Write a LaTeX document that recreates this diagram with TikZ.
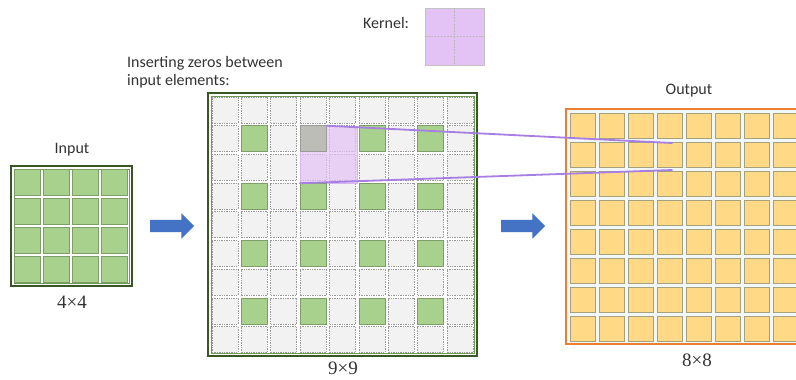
\documentclass[tikz,border=0pt]{standalone}
\usepackage{fontspec}
\setmainfont{Carlito}
\newfontfamily\numfont{Liberation Serif}
\usetikzlibrary{shapes.arrows}
\definecolor{txt}{HTML}{333333}
\definecolor{dkgreen}{HTML}{385723}
\definecolor{midgreen}{HTML}{6E9A55}
\definecolor{cellgreen}{HTML}{A9D18E}
\definecolor{cellgreenb}{HTML}{7E9E68}
\definecolor{zerofill}{HTML}{F2F2F2}
\definecolor{zerob}{HTML}{9A9A9A}
\definecolor{graycell}{HTML}{BDBDB8}
\definecolor{pinkk}{HTML}{E3C2F6}
\definecolor{purpleline}{HTML}{A77FE2}
\definecolor{orangeb}{HTML}{ED7D31}
\definecolor{yellowcell}{HTML}{FFD986}
\definecolor{yellowb}{HTML}{A3A27C}
\definecolor{arrowblue}{HTML}{4472C4}
\definecolor{gapblue}{HTML}{F1F7FA}
\tikzset{
  cellbase/.style={minimum width=25.5bp, minimum height=25.5bp, inner sep=0pt, outer sep=0pt},
  incell/.style={cellbase, fill=cellgreen, draw=cellgreenb, line width=0.7bp},
  zerocell/.style={cellbase, minimum width=26bp, minimum height=26bp, fill=zerofill, draw=zerob, line width=0.8bp, dash pattern=on 1.4bp off 1bp},
  valcell/.style={cellbase, minimum width=26bp, minimum height=26bp, fill=cellgreen, draw=cellgreenb, line width=0.8bp},
  grycell/.style={cellbase, minimum width=26bp, minimum height=26bp, fill=graycell, draw=zerob, line width=0.8bp},
  outcell/.style={cellbase, fill=yellowcell, draw=yellowb, line width=0.8bp},
  label/.style={text=txt, inner sep=0pt},
  numlabel/.style={text=txt, inner sep=0pt, font=\numfont\fontsize{19bp}{21bp}\selectfont},
  gridbox/.style={draw=dkgreen, line width=2.4bp, fill=white, inner sep=0pt},
  innerline/.style={draw=midgreen, line width=0.6bp, inner sep=0pt},
  bluearrow/.style={single arrow, fill=arrowblue, draw=none, minimum height=44bp, minimum width=25bp,
    inner xsep=0pt, inner ysep=6bp, single arrow head extend=6.5bp, text height=0pt, text depth=0pt},
  kline/.style={draw=purpleline, line width=1.8bp, line cap=round}
}
\begin{document}
\begin{tikzpicture}[x=1bp, y=-1bp, font=\fontsize{16bp}{17.5bp}\selectfont]
\useasboundingbox[fill=white] (0,0) rectangle (796,379);

% ---------- Input 4x4 ----------
\node[gridbox, minimum width=121bp, minimum height=120bp] (inbox) at (71.5,226) {};
\node[innerline, minimum width=115bp, minimum height=114bp] (ininner) at (71.5,226) {};
\foreach \i in {1,...,4}{\foreach \j in {1,...,4}{
  \node[incell] (in-\i-\j) at ({27.5+29*(\j-1)},{182.5+29*(\i-1)}) {};
}}
\node[label] (inlabel) at (72,150) {Input};
\node[numlabel] (insize) at (72,302) {4×4};

% ---------- arrow 1 ----------
\node[bluearrow] (arr1) at (169,226) {};

% ---------- 9x9 with inserted zeros ----------
\node[gridbox, minimum width=269bp, minimum height=263bp] (zbox) at (342.5,224.5) {};
\node[innerline, minimum width=263bp, minimum height=257bp] (zinner) at (342.5,224.5) {};
\foreach \i in {1,...,9}{\foreach \j in {1,...,9}{
  \node[zerocell] (z-\i-\j) at ({225+29.4*(\j-1)},{110+28.7*(\i-1)}) {};
}}
% kernel overlay
\node[fill=pinkk, fill opacity=0.7, draw=pinkk!80!purpleline, line width=0.5bp, minimum width=57bp, minimum height=57bp,
  inner sep=0pt] (overlay) at (328.5,154.5) {};
% gray (current input) cell
\node[grycell] (g-2-4) at ({225+29.4*3},{110+28.7*1}) {};
% green input-value cells
\foreach \i in {2,4,6,8}{\foreach \j in {2,4,6,8}{
  \ifnum\i=2 \ifnum\j=4 \else
    \node[valcell] (v-\i-\j) at ({225+29.4*(\j-1)},{110+28.7*(\i-1)}) {};
  \fi \else
    \node[valcell] (v-\i-\j) at ({225+29.4*(\j-1)},{110+28.7*(\i-1)}) {};
  \fi
}}
\node[label, align=left, anchor=west] (zlabel) at (127,72) {Inserting zeros between\\input elements:};
\node[numlabel] (zsize) at (343,368) {9×9};

% ---------- kernel ----------
\node[label] (klabel) at (386,23) {Kernel:};
\node[fill=pinkk, draw=zerob!60, line width=0.8bp, minimum width=59bp, minimum height=57bp, inner sep=0pt] (kernel) at (454.5,36.5) {};
\draw[draw=zerob!70, line width=0.6bp, dash pattern=on 2bp off 1.2bp] (kernel.north) -- (kernel.south);
\draw[draw=zerob!70, line width=0.6bp, dash pattern=on 2bp off 1.2bp] (kernel.west) -- (kernel.east);

% ---------- arrow 2 ----------
\node[bluearrow] (arr2) at (520,226) {};

% ---------- Output 8x8 ----------
\begin{scope}
\clip (0,0) rectangle (796,379);
\node[draw=orangeb, line width=2.4bp, fill=gapblue, minimum width=237bp, minimum height=235bp, inner sep=0pt]
  (outbox) at (684.5,226.5) {};
\foreach \i in {1,...,8}{\foreach \j in {1,...,8}{
  \node[outcell] (out-\i-\j) at ({582.75+29*(\j-1)},{125.75+29*(\i-1)}) {};
}}
\end{scope}
\node[label] (outlabel) at (689,91) {Output};
\node[numlabel] (outsize) at (697,360) {8×8};

% ---------- kernel projection lines ----------
\coordinate (endtop) at (672,143);
\coordinate (endbot) at (672,170);
\draw[kline] (g-2-4.north east) -- (endtop);
\draw[kline] (overlay.south west) -- (endbot);
\end{tikzpicture}
\end{document}
